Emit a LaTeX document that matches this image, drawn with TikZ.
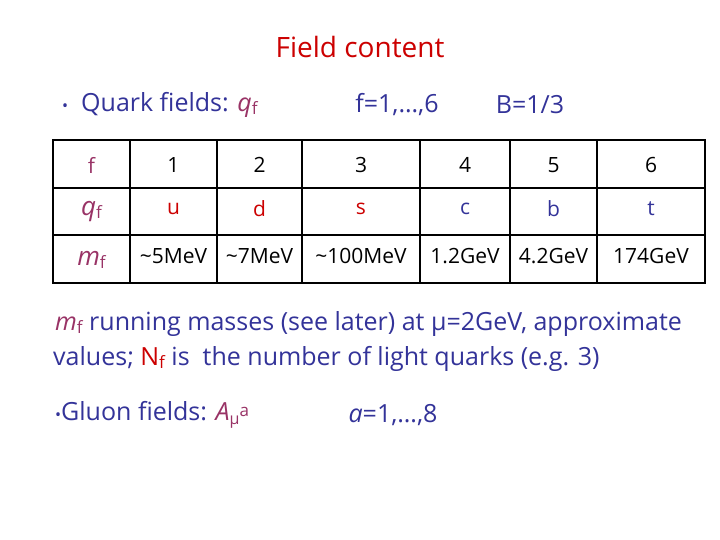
\documentclass[tikz,border=0pt]{standalone}
\usepackage{fontspec}
\setmainfont{Open Sans}
\definecolor{tblue}{HTML}{333399}
\definecolor{tpurp}{HTML}{993366}
\definecolor{tred}{HTML}{CC0000}
\begin{document}
\begin{tikzpicture}[x=1pt,y=-1pt,
  txt/.style={text=tblue,font=\fontsize{25}{30}\selectfont,inner sep=0pt},
  cell/.style={font=\fontsize{21}{24}\selectfont,inner sep=0pt},
  grid/.style={line width=1.5pt}]
\useasboundingbox (0,0) rectangle (720,540);
\fill[white] (0,0) rectangle (720,540);
\node[txt,text=tred,font=\fontsize{28}{30}\selectfont] (title) at (360,47) {Field content};
\node[txt,anchor=west] (quark) at (62,105) {{\fontsize{16}{16}\selectfont•}\ \ Quark fields: \textcolor{tpurp}{\textit{q}\raisebox{-3pt}{\fontsize{17}{17}\selectfont f}}};
\node[txt] (frange) at (397,105) {f=1,…,6};
\node[txt] (bnum) at (530,105) {B=1/3};
% table
\draw[grid] (53,140) rectangle (705,283);
\foreach \y in {188,235} \draw[grid] (53,\y) -- (705,\y);
\foreach \x in {130,217,302,420,510,597} \draw[grid] (\x,140) -- (\x,283);
\node[cell,text=tpurp] (h0) at (91.5,165) {f};
\node[cell] (h1) at (173.5,165) {1};
\node[cell] (h2) at (259.5,165) {2};
\node[cell] (h3) at (361,165) {3};
\node[cell] (h4) at (465,165) {4};
\node[cell] (h5) at (553.5,165) {5};
\node[cell] (h6) at (651,165) {6};
\node[cell,text=tpurp,font=\fontsize{26}{26}\selectfont] (q0) at (91.5,212) {\textit{q}\raisebox{-3pt}{\fontsize{17}{17}\selectfont f}};
\node[cell,text=tred] (q1) at (173.5,209) {u};
\node[cell,text=tred] (q2) at (259.5,209) {d};
\node[cell,text=tred] (q3) at (361,209) {s};
\node[cell,text=tblue] (q4) at (465,209) {c};
\node[cell,text=tblue] (q5) at (553.5,209) {b};
\node[cell,text=tblue] (q6) at (651,209) {t};
\node[cell,text=tpurp,font=\fontsize{26}{26}\selectfont] (m0) at (91.5,260) {\textit{m}\raisebox{-3pt}{\fontsize{17}{17}\selectfont f}};
\node[cell] (m1) at (173.5,256) {\textasciitilde5MeV};
\node[cell] (m2) at (259.5,256) {\textasciitilde7MeV};
\node[cell] (m3) at (361,256) {\textasciitilde100MeV};
\node[cell] (m4) at (465,256) {1.2GeV};
\node[cell] (m5) at (553.5,256) {4.2GeV};
\node[cell] (m6) at (651,256) {174GeV};
% paragraph
\node[txt,anchor=west] (line1) at (55,324) {\textcolor{tpurp}{\textit{m}\raisebox{-3pt}{\fontsize{17}{17}\selectfont f}} running masses (see later) at μ=2GeV, approximate};
\node[txt,anchor=west] (line2) at (53,359) {values; \textcolor{tred}{N\raisebox{-3pt}{\fontsize{17}{17}\selectfont f}} is\ \ the number of light quarks (e.g. 3)};
\node[txt,anchor=west] (gluon) at (55,415) {{\fontsize{16}{16}\selectfont•}Gluon fields: \textcolor{tpurp}{\textit{A}\raisebox{-4pt}{\fontsize{16}{16}\selectfont μ}\raisebox{4pt}{\fontsize{17}{17}\selectfont a}}};
\node[txt] (arange) at (393,415) {\textit{a}=1,…,8};
\end{tikzpicture}
\end{document}
